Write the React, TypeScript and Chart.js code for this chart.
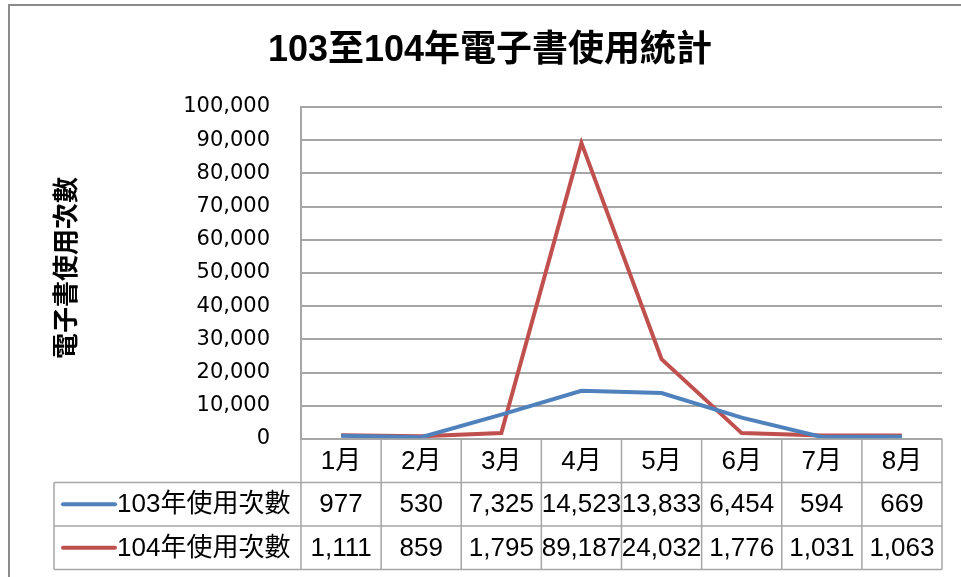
import React, { useEffect, useRef } from "react";
import { Chart, registerables } from "chart.js";

Chart.register(...registerables);

const titleText = "103至104年電子書使用統計";
const yAxisTitle = "電子書使用次數";
const months = ["1月", "2月", "3月", "4月", "5月", "6月", "7月", "8月"];
const series103Name = "103年使用次數";
const series103 = [977, 530, 7325, 14523, 13833, 6454, 594, 669];
const series104Name = "104年使用次數";
const series104 = [1111, 859, 1795, 89187, 24032, 1776, 1031, 1063];
const yMin = 0;
const yMax = 100000;
const yStep = 10000;

const BLUE = "#4F81BD";
const RED = "#C0504D";
const GRID = "#a6a6a6";
const TABLE_FONT = '26px "Liberation Sans", "Noto Sans CJK TC", sans-serif';

const fmt = (v: number) => v.toLocaleString("en-US");

const decorPlugin = {
  id: "decor",
  afterDraw(chart: any) {
    const ctx: CanvasRenderingContext2D = chart.ctx;
    const area = chart.chartArea;
    const xs = chart.scales.x;
    const n = months.length;
    const colW = (area.right - area.left) / n;
    ctx.save();

    // outer frame
    ctx.strokeStyle = "#8c8c8c";
    ctx.lineWidth = 2;
    ctx.beginPath();
    ctx.moveTo(9, 577);
    ctx.lineTo(9, 5);
    ctx.lineTo(961, 5);
    ctx.stroke();

    // title
    ctx.fillStyle = "#000";
    ctx.font = 'bold 36px "Liberation Sans", "Noto Sans CJK TC", sans-serif';
    ctx.textAlign = "center";
    ctx.textBaseline = "middle";
    ctx.fillText(titleText, 490, 51);

    // y-axis title
    ctx.save();
    ctx.translate(65, 268);
    ctx.rotate(-Math.PI / 2);
    ctx.font = 'bold 26px "Noto Sans CJK TC", sans-serif';
    ctx.fillText(yAxisTitle, 0, 0);
    ctx.restore();

    // data table
    const top = area.bottom;
    const rowH = 43.5;
    const r1 = top + rowH;
    const r2 = r1 + rowH;
    const r3 = r2 + rowH;
    const tableLeft = 54;
    ctx.strokeStyle = GRID;
    ctx.lineWidth = 1.5;
    ctx.beginPath();
    ctx.moveTo(area.left, top);
    ctx.lineTo(area.right, top);
    ctx.moveTo(tableLeft, r1);
    ctx.lineTo(area.right, r1);
    ctx.moveTo(tableLeft, r2);
    ctx.lineTo(area.right, r2);
    ctx.moveTo(tableLeft, r3);
    ctx.lineTo(area.right, r3);
    ctx.moveTo(tableLeft, r1);
    ctx.lineTo(tableLeft, r3);
    for (let i = 0; i <= n; i++) {
      const x = area.left + i * colW;
      ctx.moveTo(x, top);
      ctx.lineTo(x, r3);
    }
    ctx.stroke();

    ctx.font = TABLE_FONT;
    ctx.fillStyle = "#000";
    ctx.textAlign = "center";
    ctx.textBaseline = "middle";
    months.forEach((m, i) => {
      const cx = xs.getPixelForValue(i);
      ctx.fillText(m, cx, (top + r1) / 2 + 1);
      ctx.fillText(fmt(series103[i]), cx, (r1 + r2) / 2 + 1);
      ctx.fillText(fmt(series104[i]), cx, (r2 + r3) / 2 + 1);
    });

    // legend keys
    const rows: [string, string, number][] = [
      [series103Name, BLUE, (r1 + r2) / 2],
      [series104Name, RED, (r2 + r3) / 2],
    ];
    rows.forEach(([name, col, cy]) => {
      ctx.strokeStyle = col;
      ctx.lineWidth = 4;
      ctx.lineCap = "round";
      ctx.beginPath();
      ctx.moveTo(63, cy);
      ctx.lineTo(115, cy);
      ctx.stroke();
      ctx.textAlign = "left";
      ctx.fillStyle = "#000";
      ctx.fillText(name, 117, cy + 1);
    });

    ctx.restore();
  },
};

export default function App() {
  const ref = useRef<HTMLCanvasElement | null>(null);
  useEffect(() => {
    document.body.style.margin = "0";
    const canvas = ref.current;
    if (!canvas) return;
    const chart = new Chart(canvas, {
      type: "line",
      data: {
        labels: months,
        datasets: [
          {
            label: series103Name,
            data: series103,
            borderColor: BLUE,
            backgroundColor: BLUE,
            borderWidth: 4,
            pointRadius: 0,
            tension: 0,
          },
          {
            label: series104Name,
            data: series104,
            borderColor: RED,
            backgroundColor: RED,
            borderWidth: 4,
            pointRadius: 0,
            tension: 0,
          },
        ],
      },
      options: {
        animation: false,
        responsive: false,
        layout: { padding: { left: 181, top: 107, right: 19, bottom: 138 } },
        plugins: {
          legend: { display: false },
          title: { display: false },
          tooltip: { enabled: false },
        },
        scales: {
          x: { display: false, offset: true },
          y: {
            min: yMin,
            max: yMax,
            afterFit: (scale: any) => {
              scale.width = 120;
            },
            ticks: {
              stepSize: yStep,
              padding: 31,
              color: "#000",
              font: { family: '"DejaVu Sans", sans-serif', size: 21 },
              callback: (v: any) => fmt(Number(v)),
            },
            grid: { color: GRID, lineWidth: 2, drawTicks: false },
            border: { display: true, color: GRID, width: 2 },
          },
        },
      },
      plugins: [decorPlugin],
    });
    return () => chart.destroy();
  }, []);
  return <canvas ref={ref} width={961} height={577} style={{ display: "block" }} />;
}
